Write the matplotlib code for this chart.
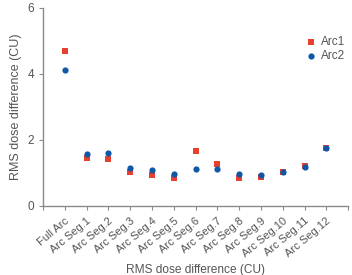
import matplotlib
matplotlib.use("Agg")
import matplotlib.pyplot as plt

categories = ["Full Arc"] + [f"Arc Seg.{i}" for i in range(1, 13)]
arc1 = [4.71, 1.46, 1.41, 1.03, 0.93, 0.86, 1.68, 1.28, 0.84, 0.89, 1.02, 1.22, 1.77]
arc2 = [4.11, 1.57, 1.61, 1.16, 1.10, 0.96, 1.12, 1.11, 0.98, 0.94, 1.02, 1.17, 1.77]
yticks = [0, 2, 4, 6]

plt.rcParams['font.family'] = ['Liberation Sans', 'DejaVu Sans']
gray = "#555555"
fig = plt.figure(figsize=(3.52, 2.75), dpi=100)
ax = fig.add_axes([0.122, 0.251, 0.867, 0.720])
x = list(range(len(categories)))
ax.scatter(x, arc1, marker='s', s=15, color='#e8402f', label='Arc1', zorder=3, linewidths=0)
ax.scatter(x, arc2, marker='o', s=20, color='#0f58a8', label='Arc2', zorder=4, linewidths=0)
ax.set_xlim(-1, 13)
ax.set_ylim(0, 6)
ax.set_xticks(list(range(-1, 14)))
ax.set_xticklabels([""] + categories + [""], rotation=40, ha='right', rotation_mode='anchor', fontsize=8, color=gray)
ax.set_yticks(yticks)
ax.set_yticklabels([str(v) for v in yticks], fontsize=8.5, color=gray)
for s in ['top', 'right']:
    ax.spines[s].set_visible(False)
for s in ['left', 'bottom']:
    ax.spines[s].set_color('#8a8a8a')
    ax.spines[s].set_linewidth(1.0)
ax.tick_params(colors='#8a8a8a', length=3, width=0.8, labelcolor=gray)
ax.tick_params(axis='x', pad=4)
ax.set_ylabel("RMS dose difference (CU)", fontsize=9, color=gray, labelpad=4)
ax.set_xlabel("RMS dose difference (CU)", fontsize=8.6, color=gray)
ax.xaxis.set_label_coords(0.5, -0.295)
leg = ax.legend(loc='upper right', bbox_to_anchor=(1.025, 0.91), frameon=False, fontsize=8.5,
                handletextpad=0.3, labelspacing=0.15, markerscale=1.0, handlelength=1.0)
for t in leg.get_texts():
    t.set_color(gray)
fig.savefig("out.png", dpi=100)
